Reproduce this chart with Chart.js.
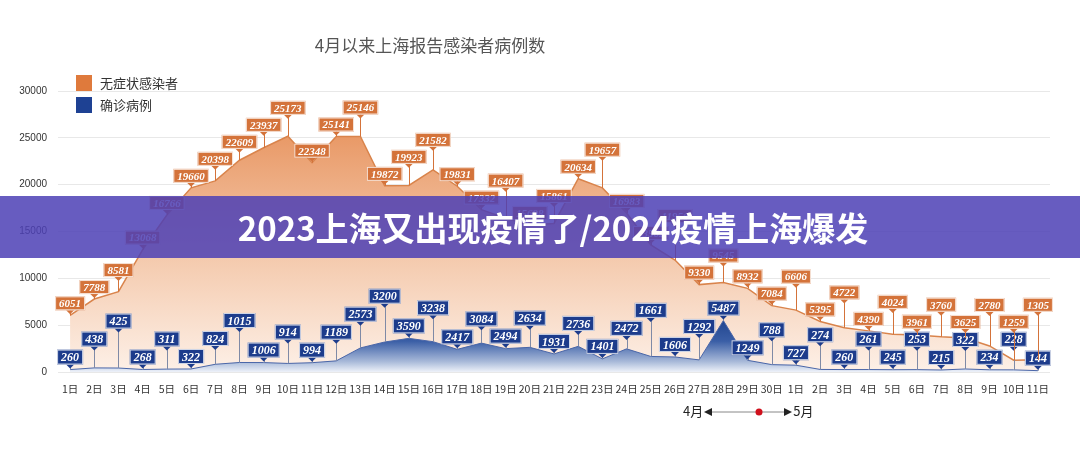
<!DOCTYPE html>
<html>
<head>
<meta charset="utf-8">
<script src="https://cdn.jsdelivr.net/npm/chart.js@4.4.0/dist/chart.umd.min.js"></script>
<style>
    body { margin: 0; background: #fff; }
    #wrap { position: relative; width: 1080px; height: 454px; overflow: hidden; font-family: "Noto Sans CJK SC", "Noto Sans", sans-serif; }
    #title { position: absolute; left: 0; width: 860px; top: 32px; text-align: center; font-size: 17px; color: #555; }
    .legend { position: absolute; left: 76px; font-size: 13px; color: #333; line-height: 16px; }
    .legend span { display: inline-block; width: 16px; height: 16px; vertical-align: top; margin-right: 8px; }
    #banner { position: absolute; left: 0; top: 196px; width: 1080px; height: 62px; background: rgba(76, 64, 181, 0.85);
              color: #fff; font-weight: bold; font-size: 33px; line-height: 62px; text-align: center; padding-left: 26px; box-sizing: border-box; }
    #months { position: absolute; left: 683px; top: 401px; font-size: 13px; color: #222; line-height: 20px; }
    #months svg { vertical-align: middle; }
</style>
</head>
<body>
<div id="wrap">
    <canvas id="myChart" width="1080" height="454"></canvas>
    <div id="title">4月以来上海报告感染者病例数</div>
    <div class="legend" style="top:75px"><span style="background:#df7a3c"></span>无症状感染者</div>
    <div class="legend" style="top:97px"><span style="background:#1e4193"></span>确诊病例</div>
    <div id="banner">2023上海又出现疫情了/2024疫情上海爆发</div>
    <div id="months">4月<svg width="90" height="12"><line x1="4" y1="6" x2="86" y2="6" stroke="#888" stroke-width="1"/><path d="M1 6 L9 2 L9 10 Z" fill="#222"/><path d="M89 6 L81 2 L81 10 Z" fill="#222"/><circle cx="56" cy="6" r="3.5" fill="#d0101c"/></svg>5月</div>
</div>
<script>
// 日期（4月1日 - 5月11日）
var days = ['1日', '2日', '3日', '4日', '5日', '6日', '7日', '8日', '9日', '10日',
    '11日', '12日', '13日', '14日', '15日', '16日', '17日', '18日', '19日', '20日',
    '21日', '22日', '23日', '24日', '25日', '26日', '27日', '28日', '29日', '30日',
    '1日', '2日', '3日', '4日', '5日', '6日', '7日', '8日', '9日', '10日', '11日'];

// 无症状感染者
var asymptomatic = [6051, 7788, 8581, 13068, 16766, 19660, 20398, 22609, 23937, 25173,
    22348, 25141, 25146, 19872, 19923, 21582, 19831, 17332, 16407, 15698,
    15861, 20634, 19657, 16983, 13562, 11956, 9330, 9545, 8932, 7084,
    6606, 5395, 4722, 4390, 4024, 3961, 3760, 3625, 2780, 1259, 1305];

// 确诊病例
var confirmed = [260, 438, 425, 268, 311, 322, 824, 1015, 1006, 914,
    994, 1189, 2573, 3200, 3590, 3238, 2417, 3084, 2494, 2634,
    1931, 2736, 1401, 2472, 1661, 1606, 1292, 5487, 1249, 788,
    727, 274, 260, 261, 245, 253, 215, 322, 234, 228, 144];

var yTicks = [0, 5000, 10000, 15000, 20000, 25000, 30000];

function areaGradient(context, stops, topValue) {
    var chart = context.chart;
    if (!chart.chartArea) return null;
    var y = chart.scales.y;
    var g = chart.ctx.createLinearGradient(0, y.getPixelForValue(topValue), 0, chart.chartArea.bottom);
    stops.forEach(function (s) { g.addColorStop(s[0], s[1]); });
    return g;
}

// etiquetas con caja y pequeño tallo
function drawLabels(chart, dsIndex, boxColor, stemColor, fontSize, placed) {
    var ctx = chart.ctx;
    var meta = chart.getDatasetMeta(dsIndex);
    var values = chart.data.datasets[dsIndex].data;
    ctx.save();
    ctx.font = 'italic bold ' + fontSize + 'px "Liberation Serif", serif';
    ctx.textAlign = 'center';
    ctx.textBaseline = 'middle';
    meta.data.forEach(function (pt, i) {
        var text = String(values[i]);
        var w = ctx.measureText(text).width + 8;
        var h = fontSize + 3;
        var box = { l: pt.x - w / 2, r: pt.x + w / 2, b: pt.y - 5, t: pt.y - 5 - h };
        var moved = true;
        while (moved) {
            moved = false;
            for (var k = 0; k < placed.length; k++) {
                var o = placed[k];
                if (box.l < o.r + 1 && box.r > o.l - 1 && box.t < o.b + 2 && box.b > o.t - 2) {
                    box.b = o.t - 3;
                    box.t = box.b - h;
                    moved = true;
                }
            }
        }
        placed.push(box);
        ctx.strokeStyle = stemColor;
        ctx.lineWidth = 1;
        ctx.beginPath();
        ctx.moveTo(Math.round(pt.x) + 0.5, box.b);
        ctx.lineTo(Math.round(pt.x) + 0.5, pt.y);
        ctx.stroke();
        ctx.fillStyle = boxColor;
        ctx.beginPath();
        ctx.moveTo(pt.x - 4, box.b);
        ctx.lineTo(pt.x + 4, box.b);
        ctx.lineTo(pt.x, box.b + 4);
        ctx.closePath();
        ctx.fill();
        ctx.fillRect(box.l, box.t, w, h);
        ctx.strokeStyle = 'rgba(255,255,255,0.8)';
        ctx.strokeRect(box.l + 0.5, box.t + 0.5, w - 1, h - 1);
        ctx.fillStyle = '#fff';
        ctx.fillText(text, pt.x, (box.t + box.b) / 2 + 1);
    });
    ctx.restore();
}

var labelPlugin = {
    id: 'valueBoxes',
    afterDatasetsDraw: function (chart) {
        var placed = [];
        drawLabels(chart, 1, '#1d3c8c', '#7f8aa6', 12, placed);
        drawLabels(chart, 0, '#d4733a', '#d4733a', 11, placed);
    }
};

var ctx = document.getElementById('myChart').getContext('2d');
var myChart = new Chart(ctx, {
    type: 'line',
    data: {
        labels: days,
        datasets: [{
            label: '无症状感染者',
            data: asymptomatic,
            order: 2,
            fill: 'origin',
            borderColor: '#d9844c',
            borderWidth: 1.5,
            pointRadius: 0,
            tension: 0,
            backgroundColor: function (c) {
                return areaGradient(c, [[0, '#e99a68'], [0.45, '#f3c5a6'], [1, '#fdf0e7']], 25000);
            }
        }, {
            label: '确诊病例',
            data: confirmed,
            order: 1,
            fill: 'origin',
            borderColor: '#4a66a8',
            borderWidth: 1,
            pointRadius: 0,
            tension: 0,
            backgroundColor: function (c) {
                return areaGradient(c, [[0, '#22468f'], [0.4, '#3a5ea6'], [0.8, '#a9bad9'], [1, '#eef2f9']], 5500);
            }
        }]
    },
    options: {
        responsive: false,
        animation: false,
        devicePixelRatio: 1,
        layout: { padding: { left: 0, right: 30, top: 91, bottom: 52 } },
        plugins: { legend: { display: false }, tooltip: { enabled: false } },
        scales: {
            x: {
                offset: true,
                grid: { display: false },
                border: { display: false },
                ticks: { color: '#333', font: { size: 10.5, family: '"Noto Sans CJK SC"' }, maxRotation: 0, autoSkip: false, padding: 3 },
                afterFit: function (s) { s.height = 30; }
            },
            y: {
                min: 0,
                max: 30000,
                afterBuildTicks: function (s) { s.ticks = yTicks.map(function (v) { return { value: v }; }); },
                grid: { color: '#e8e8e8', drawTicks: false },
                border: { display: false },
                ticks: {
                    color: '#333', font: { size: 10, family: '"Liberation Sans"' }, padding: 11,
                    callback: function (v) { return String(v); }
                },
                afterFit: function (s) { s.width = 58; }
            }
        }
    },
    plugins: [labelPlugin]
});
</script>
</body>
</html>
